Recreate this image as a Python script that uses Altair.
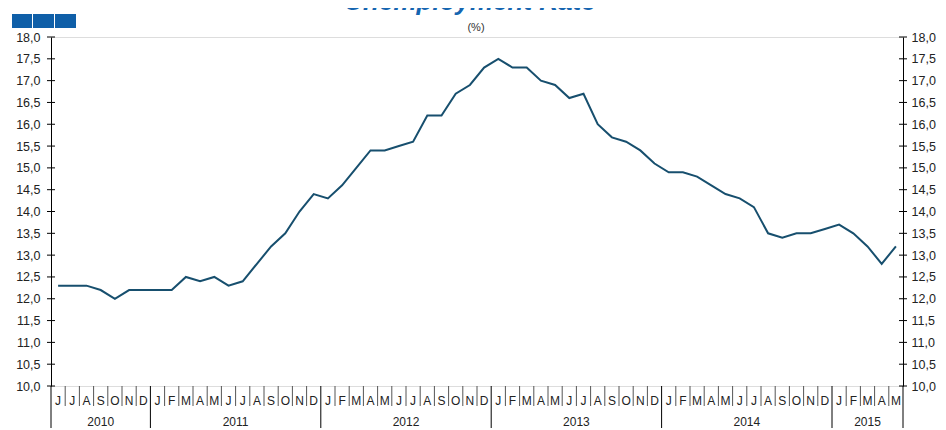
import altair as alt
import pandas as pd

# ---- data ----
years = ["2010", "2011", "2012", "2013", "2014", "2015"]
months_2010 = ["J", "J", "A", "S", "O", "N", "D"]
months_2011 = ["J", "F", "M", "A", "M", "J", "J", "A", "S", "O", "N", "D"]
months_2012 = ["J", "F", "M", "A", "M", "J", "J", "A", "S", "O", "N", "D"]
months_2013 = ["J", "F", "M", "A", "M", "J", "J", "A", "S", "O", "N", "D"]
months_2014 = ["J", "F", "M", "A", "M", "J", "J", "A", "S", "O", "N", "D"]
months_2015 = ["J", "F", "M", "A", "M"]

rate_2010 = [12.3, 12.3, 12.3, 12.2, 12.0, 12.2, 12.2]
rate_2011 = [12.2, 12.2, 12.5, 12.4, 12.5, 12.3, 12.4, 12.8, 13.2, 13.5, 14.0, 14.4]
rate_2012 = [14.3, 14.6, 15.0, 15.4, 15.4, 15.5, 15.6, 16.2, 16.2, 16.7, 16.9, 17.3]
rate_2013 = [17.5, 17.3, 17.3, 17.0, 16.9, 16.6, 16.7, 16.0, 15.7, 15.6, 15.4, 15.1]
rate_2014 = [14.9, 14.9, 14.8, 14.6, 14.4, 14.3, 14.1, 13.5, 13.4, 13.5, 13.5, 13.6]
rate_2015 = [13.7, 13.5, 13.2, 12.8, 13.2]

y_ticks = [10.0, 10.5, 11.0, 11.5, 12.0, 12.5, 13.0, 13.5, 14.0, 14.5, 15.0,
           15.5, 16.0, 16.5, 17.0, 17.5, 18.0]

title_text = "Unemployment Rate"
unit_text = "(%)"

# ---- tables ----
month_lists = [months_2010, months_2011, months_2012, months_2013, months_2014, months_2015]
rate_lists = [rate_2010, rate_2011, rate_2012, rate_2013, rate_2014, rate_2015]

rows = []
year_rows = []
sep_rows = []
k = 0
for y, ml, rl in zip(years, month_lists, rate_lists):
    start = k
    for m, r in zip(ml, rl):
        rows.append({"pos": k + 0.5, "month": m, "rate": r, "year": y})
        if k != start:
            sep_rows.append({"b": k, "kind": "month"})
        k += 1
    sep_rows.append({"b": start, "kind": "year"})
    year_rows.append({"mid": (start + k) / 2, "year": y})
sep_rows.append({"b": k, "kind": "year"})
n_months = k

df = pd.DataFrame(rows)
ydf = pd.DataFrame(year_rows)
sdf = pd.DataFrame(sep_rows)
tdf = pd.DataFrame({"t": y_ticks})

W, H = 852, 349
FONT = "Liberation Sans"
LINE = "#174f6e"

xs = alt.Scale(domain=[0, n_months], nice=False, zero=False)
ys = alt.Scale(domain=[10, 18], nice=False, zero=False)
label_expr = "replace(format(datum.value, '.1f'), '.', ',')"

line = alt.Chart(df).mark_line(color=LINE, strokeWidth=2).encode(
    x=alt.X("pos:Q", scale=xs, axis=alt.Axis(labels=False, ticks=False, grid=False,
                                             domain=True, domainColor="#808080",
                                             domainWidth=2, title=None)),
    y=alt.Y("rate:Q", scale=ys, axis=alt.Axis(orient="left", values=y_ticks,
                                              labelExpr=label_expr, ticks=False,
                                              grid=False, domainColor="black",
                                              title=None, labelPadding=11,
                                              labelFontSize=12.5, labelColor="#222",
                                              labelFont=FONT)),
)

right = alt.Chart(df).mark_line(opacity=0).encode(
    x=alt.X("pos:Q", scale=xs, axis=None),
    y=alt.Y("rate:Q", scale=ys, axis=alt.Axis(orient="right", values=y_ticks,
                                              labelExpr=label_expr, ticks=False,
                                              grid=False, domainColor="black",
                                              title=None, labelPadding=8,
                                              labelFontSize=12.5, labelColor="#222",
                                              labelFont=FONT)),
)

ticks_left = alt.Chart(tdf).mark_rule(color="black", strokeWidth=1).encode(
    y=alt.Y("t:Q", scale=ys, axis=None),
    x=alt.value(-4), x2=alt.value(4),
)
ticks_right = alt.Chart(tdf).mark_rule(color="black", strokeWidth=1).encode(
    y=alt.Y("t:Q", scale=ys, axis=None),
    x=alt.value(W - 4), x2=alt.value(W + 4),
)

month_sep = alt.Chart(sdf).transform_filter("datum.kind == 'month'").mark_rule(
    color="#555", strokeWidth=1).encode(
    x=alt.X("b:Q", scale=xs, axis=None),
    y=alt.value(H), y2=alt.value(H + 20),
)
year_sep = alt.Chart(sdf).transform_filter("datum.kind == 'year'").mark_rule(
    color="black", strokeWidth=1).encode(
    x=alt.X("b:Q", scale=xs, axis=None),
    y=alt.value(H), y2=alt.value(H + 42),
)

month_txt = alt.Chart(df).mark_text(font=FONT, fontSize=12, color="#222",
                                    baseline="alphabetic").encode(
    x=alt.X("pos:Q", scale=xs, axis=None),
    y=alt.value(H + 19),
    text="month:N",
)
year_txt = alt.Chart(ydf).mark_text(font=FONT, fontSize=12, color="#222",
                                    baseline="alphabetic").encode(
    x=alt.X("mid:Q", scale=xs, axis=None),
    y=alt.value(H + 40),
    text="year:N",
)

one = pd.DataFrame({"a": [0]})
title = alt.Chart(one).mark_text(text=title_text, font=FONT, fontSize=26,
                                 fontStyle="italic", fontWeight="bold",
                                 color="#1565b0", baseline="alphabetic").encode(
    x=alt.value(419), y=alt.value(-27))
unit = alt.Chart(one).mark_text(text=unit_text, font=FONT, fontSize=11,
                                color="#333").encode(
    x=alt.value(425), y=alt.value(-9))

sq_color = "#0f5fa8"
sq1 = alt.Chart(one).mark_rect(color=sq_color).encode(
    x=alt.value(-39), x2=alt.value(-19), y=alt.value(-23), y2=alt.value(-9))
sq2 = alt.Chart(one).mark_rect(color=sq_color).encode(
    x=alt.value(-18), x2=alt.value(3), y=alt.value(-23), y2=alt.value(-9))
sq3 = alt.Chart(one).mark_rect(color=sq_color).encode(
    x=alt.value(4), x2=alt.value(25), y=alt.value(-23), y2=alt.value(-9))

chart = alt.layer(
    line, right, ticks_left, ticks_right, month_sep, year_sep, month_txt, year_txt,
    title, unit, sq1, sq2, sq3,
).resolve_scale(y="independent").properties(
    width=W, height=H,
    autosize=alt.AutoSizeParams(type="none"),
    padding={"left": 43, "top": 29, "right": 35, "bottom": 42},
).configure_view(stroke=None).configure(font=FONT)

chart.save("out.html", embed_options={"renderer": "svg", "actions": False})
